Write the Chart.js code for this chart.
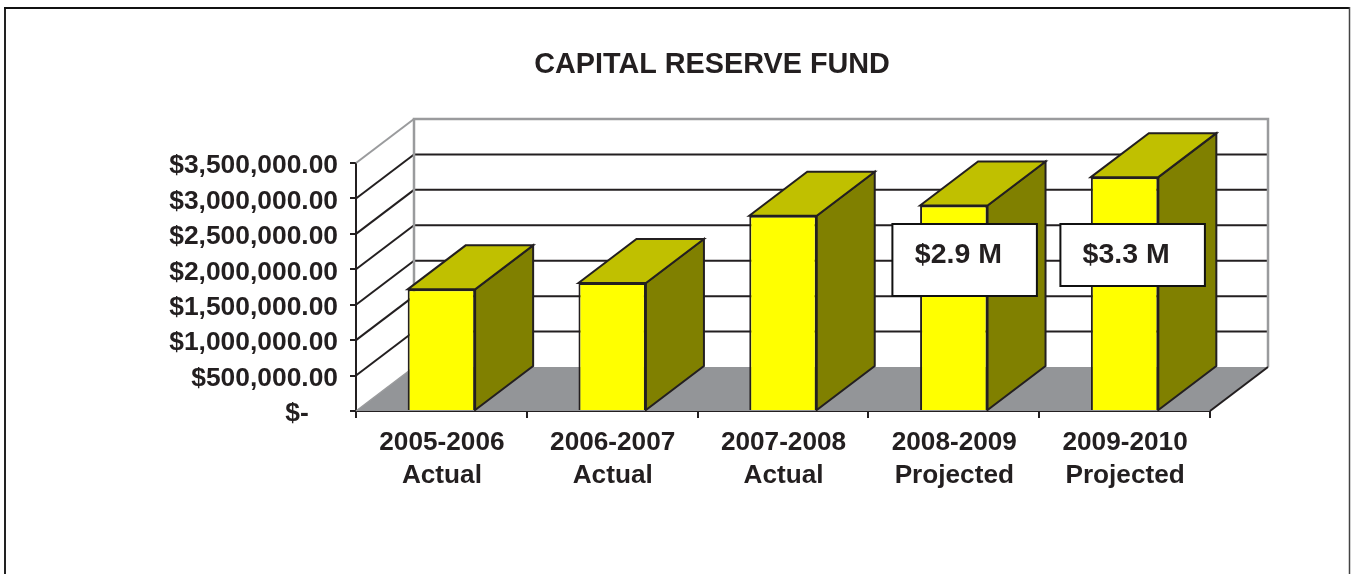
<!DOCTYPE html>
<html>
<head>
<meta charset="utf-8">
<title>Capital Reserve Fund</title>
<script src="https://cdn.jsdelivr.net/npm/chart.js@4"></script>
<style>
  html, body { margin: 0; padding: 0; background: #fff; overflow: hidden; }
  canvas { display: block; }
</style>
</head>
<body>
<canvas id="chart" width="1351" height="574"></canvas>
<script>
// Fund balance per fiscal year
const fiscalYears = [['2005-2006', 'Actual'], ['2006-2007', 'Actual'], ['2007-2008', 'Actual'], ['2008-2009', 'Projected'], ['2009-2010', 'Projected']];
const reserveValues = [1717000, 1806000, 2755000, 2900000, 3300000];
const tickValues = [0, 500000, 1000000, 1500000, 2000000, 2500000, 3000000, 3500000];
const tickLabels = ['$-    ', '$500,000.00', '$1,000,000.00', '$1,500,000.00', '$2,000,000.00', '$2,500,000.00', '$3,000,000.00', '$3,500,000.00'];
const calloutTexts = ['', '', '', '$2.9 M', '$3.3 M'];

const INK = '#231f20';
const FONT = '"Liberation Sans", Arial, sans-serif';
const DEPTH_X = 58;
const DEPTH_Y = 44;

// Callout boxes, offset from the bar centre and from the top of the plot
const calloutBoxes = {
  3: { dx: -61.4, top: 61, w: 144.5, h: 72, textDx: -39 },
  4: { dx: -64.2, top: 61, w: 144.5, h: 62, textDx: -42 }
};

function polygon(ctx, pts, fill, stroke, lineWidth) {
  ctx.beginPath();
  pts.forEach((p, i) => (i ? ctx.lineTo(p[0], p[1]) : ctx.moveTo(p[0], p[1])));
  ctx.closePath();
  if (fill) { ctx.fillStyle = fill; ctx.fill(); }
  if (stroke) { ctx.strokeStyle = stroke; ctx.lineWidth = lineWidth; ctx.lineJoin = 'miter'; ctx.stroke(); }
}

function line(ctx, x1, y1, x2, y2, color, width) {
  ctx.beginPath();
  ctx.moveTo(x1, y1);
  ctx.lineTo(x2, y2);
  ctx.strokeStyle = color;
  ctx.lineWidth = width;
  ctx.stroke();
}

// Outer frame of the chart object, open at the bottom edge; the title is
// centred over the span from the plot's inset to its right edge
const framePlugin = {
  id: 'frame',
  afterLayout(chart) {
    chart.titleBlock.left = 214;
  },
  beforeDraw(chart) {
    const ctx = chart.ctx;
    ctx.save();
    ctx.fillStyle = '#fff';
    ctx.fillRect(0, 0, chart.width, chart.height);
    line(ctx, 5, chart.height, 5, 7, '#222', 2);
    line(ctx, 4, 8, 1350, 8, '#111', 2);
    line(ctx, 1349.5, 7, 1349.5, chart.height, '#444', 1.5);
    ctx.restore();
  }
};

// Back wall, side wall, floor and the extruded faces of each bar
const depthPlugin = {
  id: 'depth',
  beforeDatasetsDraw(chart) {
    const ctx = chart.ctx;
    const { left, right } = chart.chartArea;
    const y = chart.scales.y;
    const zero = y.getPixelForValue(0);
    const top = y.getPixelForValue(tickValues[tickValues.length - 1]);
    ctx.save();

    polygon(ctx, [[left, zero], [right, zero], [right + DEPTH_X, zero - DEPTH_Y], [left + DEPTH_X, zero - DEPTH_Y]], '#939598');

    tickValues.slice(1, -1).forEach(v => {
      const py = y.getPixelForValue(v);
      line(ctx, left, py, left + DEPTH_X, py - DEPTH_Y, INK, 2);
      line(ctx, left + DEPTH_X, py - DEPTH_Y, right + DEPTH_X, py - DEPTH_Y, INK, 2);
    });

    const wall = '#9a9b9d';
    line(ctx, left, top, left + DEPTH_X, top - DEPTH_Y, wall, 2);
    line(ctx, left, zero, left + DEPTH_X, zero - DEPTH_Y, wall, 1.5);
    ctx.beginPath();
    ctx.moveTo(left + DEPTH_X, zero - DEPTH_Y);
    ctx.lineTo(left + DEPTH_X, top - DEPTH_Y);
    ctx.lineTo(right + DEPTH_X, top - DEPTH_Y);
    ctx.lineTo(right + DEPTH_X, zero - DEPTH_Y);
    ctx.strokeStyle = wall;
    ctx.lineWidth = 2.5;
    ctx.stroke();
    line(ctx, right, zero, right + DEPTH_X, zero - DEPTH_Y, INK, 2);

    chart.getDatasetMeta(0).data.forEach(bar => {
      const r = bar.x + bar.width / 2;
      const l = bar.x - bar.width / 2;
      polygon(ctx, [[r, bar.y], [r + DEPTH_X, bar.y - DEPTH_Y], [r + DEPTH_X, bar.base - DEPTH_Y], [r, bar.base]], '#808000', INK, 2);
      polygon(ctx, [[l, bar.y], [l + DEPTH_X, bar.y - DEPTH_Y], [r + DEPTH_X, bar.y - DEPTH_Y], [r, bar.y]], '#c0c000', INK, 2);
    });
    ctx.restore();
  }
};

// White value callouts on the projected years
const calloutPlugin = {
  id: 'callouts',
  afterDatasetsDraw(chart) {
    const ctx = chart.ctx;
    ctx.save();
    chart.getDatasetMeta(0).data.forEach((bar, i) => {
      const box = calloutBoxes[i];
      if (!box) return;
      const x = bar.x + box.dx;
      const t = chart.chartArea.top + box.top;
      ctx.fillStyle = '#fff';
      ctx.fillRect(x, t, box.w, box.h);
      ctx.strokeStyle = '#111';
      ctx.lineWidth = 2;
      ctx.strokeRect(x, t, box.w, box.h);
      ctx.fillStyle = INK;
      ctx.font = 'bold 28.5px ' + FONT;
      ctx.textAlign = 'left';
      ctx.textBaseline = 'middle';
      ctx.fillText(calloutTexts[i], bar.x + box.textDx, t + 31);
    });
    ctx.restore();
  }
};

new Chart(document.getElementById('chart'), {
  type: 'bar',
  data: {
    labels: fiscalYears,
    datasets: [{
      label: 'Capital Reserve Fund',
      data: reserveValues,
      backgroundColor: '#ffff00',
      borderColor: INK,
      borderWidth: 2,
      barPercentage: 0.395,
      categoryPercentage: 1
    }]
  },
  options: {
    responsive: false,
    animation: false,
    layout: { padding: { left: 160, right: 141, top: 0, bottom: 0 } },
    plugins: {
      legend: { display: false },
      tooltip: { enabled: false },
      title: {
        display: true,
        text: 'CAPITAL RESERVE FUND',
        color: INK,
        font: { family: FONT, size: 28.8, weight: 'bold', lineHeight: 1 },
        padding: { top: 50.6, bottom: 83.6 }
      }
    },
    scales: {
      x: {
        afterFit(scale) { scale.height = 163; },
        grid: { drawOnChartArea: false, color: INK, lineWidth: 2, tickLength: 7, offset: true },
        border: { color: INK, width: 2 },
        ticks: {
          color: INK,
          padding: 8,
          labelOffset: 0.5,
          autoSkip: false,
          maxRotation: 0,
          font: { family: FONT, size: 26.2, weight: 'bold', lineHeight: 1.26 }
        }
      },
      y: {
        min: 0,
        max: 3500000,
        afterFit(scale) { scale.width = 196; },
        afterBuildTicks(scale) { scale.ticks = tickValues.map(value => ({ value })); },
        grid: { drawOnChartArea: false, color: INK, lineWidth: 2, tickLength: 6 },
        border: { color: INK, width: 2 },
        ticks: {
          color: INK,
          padding: 12,
          labelOffset: 3,
          callback(value) { return tickLabels[tickValues.indexOf(value)]; },
          font: { family: FONT, size: 26.4, weight: 'bold' }
        }
      }
    }
  },
  plugins: [framePlugin, depthPlugin, calloutPlugin]
});
</script>
</body>
</html>
